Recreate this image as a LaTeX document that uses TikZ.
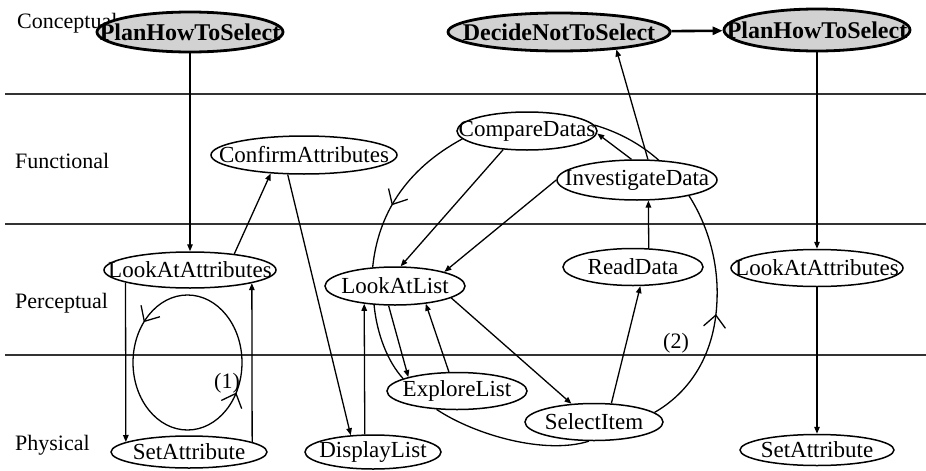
\documentclass[tikz,border=0pt]{standalone}
\usepackage{fontspec}
\setmainfont{Liberation Serif}
\usetikzlibrary{shapes.geometric,arrows.meta,decorations.markings}
\pgfdeclarelayer{bg}
\pgfsetlayers{bg,main}
\begin{document}
\begin{tikzpicture}[x=1pt,y=-1pt,
  every node/.style={font=\fontsize{22}{24}\selectfont},
  st/.style={draw, line width=1.5pt, ellipse, inner sep=0pt, fill=white, font=\fontsize{23}{25}\selectfont},
  cs/.style={draw, line width=2.8pt, ellipse, inner sep=0pt, fill=gray!35, font=\fontsize{24}{26}\selectfont\bfseries},
  ed/.style={line width=1.3pt, -{Triangle[length=7pt,width=5.5pt]}},
  lp/.style={line width=1.3pt},
  lane/.style={line width=1.8pt, black!80},
  lab/.style={anchor=base west, inner sep=0pt},
  barbtip/.tip={Straight Barb[length=12pt,width=22pt,line width=1.3pt]},
  barb/.style={decoration={markings, mark=at position #1 with {\arrow{barbtip}}}, postaction={decorate}},
]
\useasboundingbox (0,0) rectangle (926,471);

% nodes
\node[cs, minimum width=186pt, minimum height=40pt] (p1) at (190,32) {\makebox[0pt]{PlanHowToSelect}};
\node[cs, minimum width=222pt, minimum height=38pt] (dn) at (559,32) {\makebox[0pt]{DecideNotToSelect}};
\node[cs, minimum width=186pt, minimum height=42pt] (p2) at (817,30) {\makebox[0pt]{PlanHowToSelect}};

\node[st, minimum width=186pt, minimum height=38pt] (ca) at (304,155) {\makebox[0pt]{ConfirmAttributes}};
\node[st, minimum width=140pt, minimum height=38pt] (cd) at (527,131) {\makebox[0pt]{CompareDatas}};
\node[st, minimum width=160pt, minimum height=40pt] (id) at (637,180) {\makebox[0pt]{InvestigateData}};

\node[st, minimum width=172pt, minimum height=36pt] (la1) at (190,270) {\makebox[0pt]{LookAtAttributes}};
\node[st, minimum width=140pt, minimum height=38pt] (ll) at (395,286) {\makebox[0pt]{LookAtList}};
\node[st, minimum width=140pt, minimum height=37pt] (rd) at (633,267) {\makebox[0pt]{ReadData}};
\node[st, minimum width=172pt, minimum height=37pt] (la2) at (817,268) {\makebox[0pt]{LookAtAttributes}};

\node[st, minimum width=156pt, minimum height=32pt] (sa1) at (189,452) {\makebox[0pt]{SetAttribute}};
\node[st, minimum width=136pt, minimum height=34pt] (dl) at (373,452) {\makebox[0pt]{DisplayList}};
\node[st, minimum width=140pt, minimum height=37pt] (el) at (457,391) {\makebox[0pt]{ExploreList}};
\node[st, minimum width=138pt, minimum height=37pt] (si) at (594,422) {\makebox[0pt]{SelectItem}};
\node[st, minimum width=154pt, minimum height=31pt] (sa2) at (817,450) {\makebox[0pt]{SetAttribute}};

\node (n1) at (227,383) {(1)};
\node (n2) at (676,343) {(2)};

\begin{pgfonlayer}{bg}
% lanes
\draw[lane] (5,94) -- (926,94);
\draw[lane] (5,224) -- (926,224);
\draw[lane] (5,355) -- (926,355);
\node[lab] (lc) at (17,28) {Conceptual};
\node[lab] (lf) at (15,168) {Functional};
\node[lab] (lpc) at (15,308) {Perceptual};
\node[lab] (lph) at (15,450) {Physical};

% connectors
\draw[ed] (p1) -- (la1);
\draw[ed] (la1.20) -- (ca.209);
\draw[ed] (ca.230) -- (dl.143);
\draw[ed] (dl.115) -- (ll.210);
\draw[ed] (la1.191) -- (sa1.171);
\draw[ed] (sa1.9) -- (la1.348);
\draw[ed] (cd.218) -- (ll.74);
\draw[ed] (id.180) -- (ll.16);
\draw[ed] (id.105) -- (cd.-2);
\draw[ed] (id.62) -- (dn.-17);
\draw[ed] (rd.50) -- (id.299);
\draw[ed] (si.47) -- (rd.291);
\draw[ed] (ll.-12) -- (si.141);
\draw[ed] (ll.252) -- (el.164);
\draw[ed] (el.113) -- (ll.-30);
\draw[ed, line width=2.6pt, -{Triangle[length=10pt,width=8pt]}] (dn) -- (p2);
\draw[ed] (p2) -- (la2);
\draw[ed] (la2) -- (sa2);

% loop (1): counterclockwise on screen
\coordinate (c1) at (187.5,362.5);
\draw[lp, postaction={decorate}, decoration={markings,
   mark=at position 0.39 with {\arrow{barbtip}},
   mark=at position 0.92 with {\arrow{barbtip}}}]
  ([xshift=54.5pt]c1) arc[start angle=0, end angle=-360, x radius=54.5, y radius=67.5];

% loop (2)
\draw[lp, barb=0.6] (cd.187) .. controls (405,170) and (378,215) .. (ll.140);
\draw[lp] (ll.222) .. controls (377,335) and (388,362) .. (el.167);
\draw[lp] (si.255) .. controls (545,455) and (475,435) .. (el.222);
\draw[lp, barb=0.33] (si.9) .. controls (685,395) and (715,360) .. (717,300)
   .. controls (720,230) and (680,150) .. (cd.5);
\end{pgfonlayer}
\end{tikzpicture}
\end{document}
